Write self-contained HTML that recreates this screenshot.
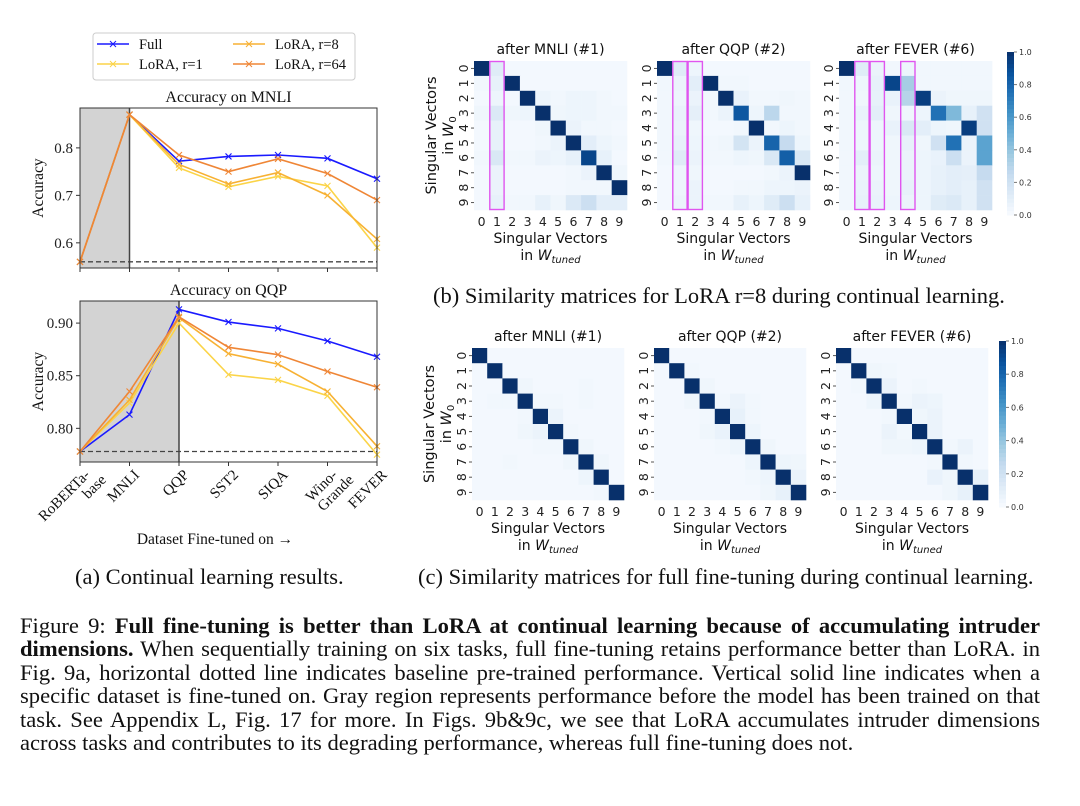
<!DOCTYPE html>
<html><head><meta charset="utf-8"><style>
html,body{margin:0;padding:0;background:#fff;}
#fig{position:absolute;left:0;top:0;}
#caption{position:absolute;left:20px;top:614px;width:1020px;font-family:"Liberation Serif",serif;font-size:22.6px;line-height:23.4px;color:#111;}
#caption .ln{display:block;text-align:justify;text-align-last:justify;white-space:nowrap;}
#caption .ln.last{text-align-last:left;}
</style></head><body>
<svg id="fig" width="1080" height="806" xmlns="http://www.w3.org/2000/svg"></svg>
<div id="caption"><span class="ln"><span class="in">Figure 9: <b>Full fine-tuning is better than LoRA at continual learning because of accumulating intruder</b></span></span><span class="ln"><span class="in"><b>dimensions.</b> When sequentially training on six tasks, full fine-tuning retains performance better than LoRA. in</span></span><span class="ln"><span class="in">Fig. 9a, horizontal dotted line indicates baseline pre-trained performance. Vertical solid line indicates when a</span></span><span class="ln"><span class="in">specific dataset is fine-tuned on. Gray region represents performance before the model has been trained on that</span></span><span class="ln"><span class="in">task. See Appendix L, Fig. 17 for more. In Figs. 9b&amp;9c, we see that LoRA accumulates intruder dimensions</span></span><span class="ln last"><span class="in">across tasks and contributes to its degrading performance, whereas full fine-tuning does not.</span></span></div>
<script>
// ---------- data ----------
const categories = ["RoBERTa-base","MNLI","QQP","SST2","SIQA","Wino-Grande","FEVER"];
const seriesNames = ["Full","LoRA, r=1","LoRA, r=8","LoRA, r=64"];
const mnliFull = [0.56,0.87,0.772,0.782,0.785,0.778,0.735];
const mnliR1   = [0.56,0.87,0.758,0.718,0.740,0.720,0.590];
const mnliR8   = [0.56,0.87,0.765,0.724,0.748,0.700,0.608];
const mnliR64  = [0.56,0.87,0.785,0.750,0.777,0.746,0.690];
const qqpFull = [0.778,0.813,0.913,0.901,0.895,0.883,0.868];
const qqpR1   = [0.778,0.824,0.900,0.851,0.846,0.831,0.775];
const qqpR8   = [0.778,0.827,0.905,0.871,0.861,0.835,0.783];
const qqpR64  = [0.778,0.835,0.906,0.877,0.870,0.854,0.839];
const mnliBaseline = 0.56, qqpBaseline = 0.778;
const mnliTicks = ["0.6","0.7","0.8"];
const qqpTicks = ["0.80","0.85","0.90"];
const cbTicks = ["0.0","0.2","0.4","0.6","0.8","1.0"];
// LoRA r=8 matrices
const loraMNLI = [
[1,.12,.02,.02,.02,.02,.02,.02,.02,.02],
[.03,.08,1,.02,.02,.02,.02,.02,.02,.02],
[.02,.05,.02,1,.05,.03,.05,.05,.03,.02],
[.04,.14,.04,.05,1,.04,.05,.05,.03,.03],
[.02,.08,.02,.02,.04,1,.06,.03,.03,.02],
[.02,.08,.02,.02,.03,.06,1,.10,.05,.03],
[.03,.15,.03,.03,.06,.05,.08,.92,.08,.02],
[.02,.06,.02,.02,.02,.02,.03,.06,1,.04],
[.02,.06,.02,.02,.02,.02,.03,.03,.03,1],
[.02,.08,.03,.03,.08,.04,.14,.22,.10,.10]];
const loraQQP = [
[1,.12,.05,.02,.02,.02,.02,.02,.02,.02],
[.03,.06,.10,1,.03,.03,.02,.02,.02,.02],
[.03,.05,.06,.03,1,.07,.03,.03,.04,.03],
[.03,.07,.09,.03,.06,.85,.05,.28,.03,.03],
[.03,.06,.04,.02,.02,.03,1,.03,.05,.03],
[.03,.08,.05,.03,.04,.18,.06,.80,.25,.05],
[.03,.12,.06,.03,.03,.05,.04,.15,.82,.15],
[.02,.05,.04,.02,.02,.02,.02,.03,.06,1],
[.02,.05,.06,.02,.02,.03,.03,.05,.05,.06],
[.02,.06,.06,.03,.03,.08,.05,.12,.22,.08]];
const loraFEVER = [
[1,.12,.06,.03,.05,.03,.03,.03,.03,.03],
[.03,.05,.08,.92,.35,.03,.03,.03,.03,.03],
[.03,.04,.08,.07,.30,.95,.06,.04,.04,.04],
[.03,.07,.10,.04,.04,.05,.75,.45,.08,.20],
[.03,.05,.05,.07,.15,.10,.05,.04,.95,.20],
[.03,.05,.05,.04,.08,.04,.20,.75,.06,.55],
[.03,.10,.06,.04,.06,.05,.07,.22,.06,.55],
[.03,.06,.05,.04,.06,.05,.08,.10,.09,.25],
[.03,.07,.06,.04,.08,.05,.08,.10,.08,.20],
[.03,.08,.07,.05,.06,.05,.12,.14,.08,.20]];
// full fine-tuning matrices
const fullMNLI = [
[1,.02,.02,.02,.02,.02,.02,.02,.02,.02],
[.02,1,.02,.02,.02,.02,.02,.02,.02,.02],
[.02,.02,1,.04,.02,.02,.02,.03,.02,.02],
[.02,.03,.03,1,.03,.03,.02,.03,.02,.02],
[.02,.02,.02,.03,1,.06,.02,.02,.02,.02],
[.02,.02,.02,.04,.06,1,.03,.02,.02,.02],
[.02,.02,.02,.02,.03,.03,1,.04,.02,.02],
[.02,.02,.03,.02,.02,.02,.04,1,.04,.02],
[.02,.02,.02,.02,.02,.02,.02,.05,1,.02],
[.02,.02,.02,.02,.02,.02,.02,.02,.03,1]];
const fullQQP = [
[1,.02,.02,.02,.02,.02,.02,.02,.02,.02],
[.02,1,.03,.02,.02,.02,.02,.02,.02,.02],
[.02,.02,1,.04,.02,.02,.02,.02,.02,.02],
[.02,.02,.04,1,.03,.06,.03,.02,.02,.02],
[.02,.02,.02,.03,1,.08,.03,.02,.02,.02],
[.02,.02,.02,.04,.07,1,.05,.02,.02,.02],
[.02,.02,.02,.02,.03,.05,1,.04,.02,.02],
[.02,.02,.02,.02,.02,.02,.05,1,.05,.04],
[.02,.02,.02,.02,.02,.02,.03,.05,1,.06],
[.02,.02,.02,.02,.02,.02,.02,.04,.08,1]];
const fullFEVER = [
[1,.02,.02,.02,.02,.02,.02,.02,.02,.02],
[.02,1,.04,.03,.02,.02,.02,.02,.02,.02],
[.02,.03,1,.06,.02,.03,.02,.02,.02,.02],
[.02,.02,.05,1,.03,.06,.05,.02,.02,.02],
[.02,.02,.02,.03,1,.04,.06,.02,.02,.02],
[.02,.02,.02,.06,.03,1,.06,.02,.02,.02],
[.02,.02,.02,.04,.04,.05,1,.03,.06,.02],
[.02,.02,.02,.02,.02,.02,.03,1,.03,.02],
[.02,.02,.02,.02,.02,.02,.07,.04,1,.08],
[.02,.02,.02,.02,.02,.02,.02,.04,.08,1]];
const heatTitles = ["after MNLI (#1)","after QQP (#2)","after FEVER (#6)"];
const intruderCols = [[1],[1,2],[1,2,4]];

// ---------- helpers ----------
const NS="http://www.w3.org/2000/svg";
const svg=document.getElementById('fig');
function mk(tag,attrs,parent,text){const e=document.createElementNS(NS,tag);for(const k in attrs)e.setAttribute(k,attrs[k]);if(text!==undefined)e.textContent=text;(parent||svg).appendChild(e);return e;}
const SERIF='"Liberation Serif",serif', SANS='"DejaVu Sans","Liberation Sans",sans-serif';
const colors=["#1a1aff","#fbd448","#f7b133","#ef8636"];

// caption line fitting
document.querySelectorAll('#caption .in').forEach(s=>{
  const w=s.getBoundingClientRect().width;
  if(w>1019){const n=s.textContent.length;s.style.letterSpacing=((1019-w)/n).toFixed(3)+'px';}
});

// ---------- line charts ----------
function lineChart(name,cfg){
  const g=mk('g',{});
  
  
  const {x0,x1,y0,y1,vmin,vmax}=cfg;
  const xs=i=>x0+i*(x1-x0)/(categories.length-1);
  const ys=v=>y1-(v-vmin)/(vmax-vmin)*(y1-y0);
  const gray=mk('rect',{x:x0,y:y0,width:xs(cfg.grayTo)-x0,height:y1-y0,fill:'#d3d3d3'},g);
  
  
  const vl=mk('line',{x1:xs(cfg.grayTo),x2:xs(cfg.grayTo),y1:y0,y2:y1,stroke:'#444','stroke-width':1.5},g);
  
  
  const bl=mk('line',{x1:x0,x2:x1,y1:ys(cfg.baseline),y2:ys(cfg.baseline),stroke:'#444','stroke-width':1.3,'stroke-dasharray':'5,3'},g);
  
  
  cfg.series.forEach((vals,si)=>{
    const pts=vals.map((v,i)=>xs(i)+','+ys(v)).join(' ');
    const pl=mk('polyline',{points:pts,fill:'none',stroke:colors[si],'stroke-width':1.6},g);
    
    
    vals.forEach((v,i)=>{const cx=xs(i),cy=ys(v);
      const m=mk('path',{d:`M${cx-3},${cy-3}L${cx+3},${cy+3}M${cx-3},${cy+3}L${cx+3},${cy-3}`,stroke:colors[si],'stroke-width':1.1},g);
      
      });
  });
  const fr=mk('rect',{x:x0,y:y0,width:x1-x0,height:y1-y0,fill:'none',stroke:'#333','stroke-width':1},g);
  
  
  cfg.ticks.forEach(t=>{const y=ys(parseFloat(t));
    mk('line',{x1:x0-4,x2:x0,y1:y,y2:y,stroke:'#333'},g);
    const tl=mk('text',{x:x0-7,y:y+5,'text-anchor':'end','font-family':SERIF,'font-size':15,fill:'#222'},g,t);
    
    });
  categories.forEach((c,i)=>mk('line',{x1:xs(i),x2:xs(i),y1:y1,y2:y1+4,stroke:'#333'},g));
  const tt=mk('text',{x:(x0+x1)/2,y:y0-6,'text-anchor':'middle','font-family':SERIF,'font-size':16,fill:'#111'},g,cfg.title);
  
  
  const yl=mk('text',{x:0,y:0,transform:`translate(43,${(y0+y1)/2}) rotate(-90)`,'text-anchor':'middle','font-family':SERIF,'font-size':15.5,fill:'#111'},g,'Accuracy');
  
  
  return xs;
}
lineChart('mnli-accuracy-chart',{x0:80,x1:377,y0:108,y1:268,vmin:0.547,vmax:0.884,grayTo:1,baseline:mnliBaseline,
  series:[mnliFull,mnliR1,mnliR8,mnliR64],ticks:mnliTicks,title:'Accuracy on MNLI'});
const xsB=lineChart('qqp-accuracy-chart',{x0:80,x1:377,y0:301,y1:462,vmin:0.768,vmax:0.921,grayTo:2,baseline:qqpBaseline,
  series:[qqpFull,qqpR1,qqpR8,qqpR64],ticks:qqpTicks,title:'Accuracy on QQP'});
categories.forEach((c,i)=>{
  const parts=c==="RoBERTa-base"?["RoBERTa-","base"]:c==="Wino-Grande"?["Wino-","Grande"]:[c];
  const t=mk('text',{transform:`translate(${xsB(i)+5},${470}) rotate(-45)`,'text-anchor':'end','font-family':SERIF,'font-size':15,fill:'#111'});
  
  
  parts.forEach((p,k)=>mk('tspan',{x:k?8:0,dy:k?15:8},t,p));
});
const xt=mk('text',{x:215,y:544,'text-anchor':'middle','font-family':SERIF,'font-size':15.5,fill:'#111'},svg,'Dataset Fine-tuned on →');


// legend
const lg=mk('g',{});


mk('rect',{x:93,y:33,width:262,height:47,rx:3,fill:'#fff',stroke:'#ccc'},lg);
[[0,97,44],[1,97,64],[2,233,44],[3,233,64]].forEach(([si,x,y])=>{
  const e=mk('g',{},lg);
  
  
  mk('line',{x1:x,x2:x+32,y1:y,y2:y,stroke:colors[si],'stroke-width':1.6},e);
  mk('path',{d:`M${x+13},${y-3}L${x+19},${y+3}M${x+13},${y+3}L${x+19},${y-3}`,stroke:colors[si]},e);
  mk('text',{x:x+42,y:y+5,'font-family':SERIF,'font-size':14.5,fill:'#111'},e,seriesNames[si]);
});

// ---------- heatmaps ----------
const stops=[[0,[247,251,255]],[.125,[222,235,247]],[.25,[198,219,239]],[.375,[158,202,225]],[.5,[107,174,214]],[.625,[66,146,198]],[.75,[33,113,181]],[.875,[8,81,156]],[1,[8,48,107]]];
function cmap(v){v=Math.max(0,Math.min(1,v));for(let i=1;i<stops.length;i++){if(v<=stops[i][0]){const a=stops[i-1],b=stops[i],t=(v-a[0])/(b[0]-a[0]);const c=a[1].map((x,k)=>Math.round(x+(b[1][k]-x)*t));return `rgb(${c})`;}}return 'rgb(8,48,107)';}
function heatmap(name,mat,x0,y0,w,h,title,intr,showY){
  const g=mk('g',{});
  
  
  const cw=w/10,ch=h/10;
  mat.forEach((row,r)=>row.forEach((v,c)=>{
    const cell=mk('rect',{x:x0+c*cw,y:y0+r*ch,width:cw+0.3,height:ch+0.3,fill:cmap(v)},g);
    
    
  }));
  (intr||[]).forEach(c=>{
    const b=mk('rect',{x:x0+c*cw+0.5,y:y0+0.5,width:cw-1,height:h-1,fill:'none',stroke:'#e055ef','stroke-width':1.4},g);
    
    
  });
  for(let i=0;i<10;i++){
    mk('text',{x:x0+(i+.5)*cw,y:y0+h+16,'text-anchor':'middle','font-family':SANS,'font-size':12.5,fill:'#222'},g,String(i));
    mk('line',{x1:x0-3,x2:x0,y1:y0+(i+.5)*ch,y2:y0+(i+.5)*ch,stroke:'#555'},g);
    mk('text',{transform:`translate(${x0-6},${y0+(i+.5)*ch}) rotate(-90)`,'text-anchor':'middle','font-family':SANS,'font-size':12.5,fill:'#222'},g,String(i));
  }
  const t=mk('text',{x:x0+w/2,y:y0-7,'text-anchor':'middle','font-family':SANS,'font-size':14,fill:'#111'},g,title);
  
  
  const xl=mk('text',{x:x0+w/2,y:y0+h+33,'text-anchor':'middle','font-family':SANS,'font-size':14,fill:'#111'},g,'Singular Vectors');
  
  
  const xl2=mk('text',{x:x0+w/2,y:y0+h+50,'text-anchor':'middle','font-family':SANS,'font-size':14,fill:'#111'},g);
  mk('tspan',{},xl2,'in ');
  mk('tspan',{'font-style':'italic'},xl2,'W');
  mk('tspan',{'font-style':'italic','font-size':10,dy:3},xl2,'tuned');
  if(showY){
    const yl=mk('text',{transform:`translate(${x0-38},${y0+h/2}) rotate(-90)`,'text-anchor':'middle','font-family':SANS,'font-size':14.5,fill:'#111'},g,'Singular Vectors');
    
    
    const y2=mk('text',{transform:`translate(${x0-21},${y0+h/2}) rotate(-90)`,'text-anchor':'middle','font-family':SANS,'font-size':14.5,fill:'#111'},g);
    mk('tspan',{},y2,'in ');
    mk('tspan',{'font-style':'italic'},y2,'W');
    mk('tspan',{'font-size':10,dy:3},y2,'0');
  }
}
function colorbar(name,x,y0,y1){
  const g=mk('g',{});
  
  
  const n=40;
  for(let i=0;i<n;i++)mk('rect',{x:x,y:y0+i*(y1-y0)/n,width:7,height:(y1-y0)/n+0.5,fill:cmap(1-(i+.5)/n)},g);
  cbTicks.forEach(t=>{const y=y1-parseFloat(t)*(y1-y0);
    mk('line',{x1:x+7,x2:x+10,y1:y,y2:y,stroke:'#777'},g);
    mk('text',{x:x+12,y:y+3,'font-family':SANS,'font-size':8,fill:'#333'},g,t);});
}
const bMats=[loraMNLI,loraQQP,loraFEVER], cMats=[fullMNLI,fullQQP,fullFEVER];
const bX=[474,657,839], cX=[472,654,836];
bMats.forEach((m,i)=>heatmap('lora-heatmap-'+(i+1),m,bX[i],61,153,149,heatTitles[i],intruderCols[i],i===0));
cMats.forEach((m,i)=>heatmap('full-heatmap-'+(i+1),m,cX[i],348,152,152,heatTitles[i],null,i===0));
colorbar('lora-colorbar',1007,52,215);
colorbar('full-colorbar',999,341,507);

// sub captions
[[75,584,'(a) Continual learning results.','caption-a'],[433,303,'(b) Similarity matrices for LoRA r=8 during continual learning.','caption-b'],[418,584,'(c) Similarity matrices for full fine-tuning during continual learning.','caption-c']].forEach(([x,y,s,n])=>{
  const t=mk('text',{x:x,y:y,'font-family':SERIF,'font-size':22.5,fill:'#111'},svg,s);
  
  
});
</script>
</body></html>
